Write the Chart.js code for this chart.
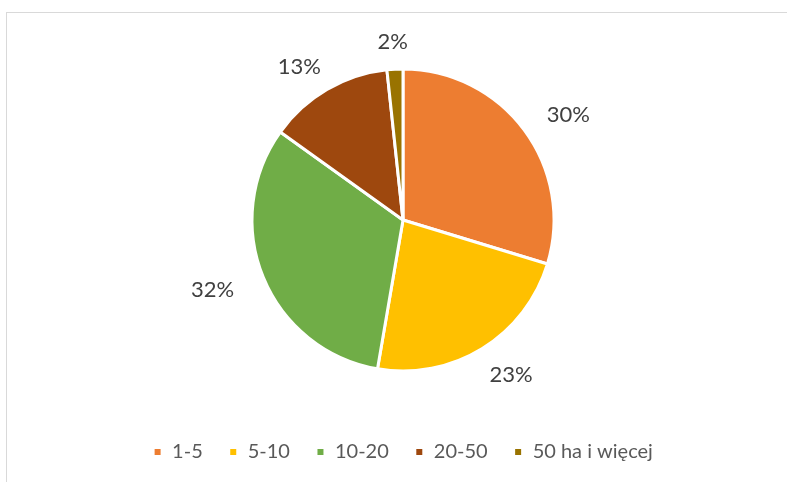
<!DOCTYPE html>
<html>
<head>
<meta charset="utf-8">
<script src="https://cdn.jsdelivr.net/npm/chart.js@4"></script>
<style>
  html, body { margin: 0; padding: 0; background: #fff; }
  #wrap { position: relative; width: 787px; height: 482px; overflow: hidden; }
  #frame { position: absolute; left: 6px; top: 12px; width: 900px; height: 600px;
           border-top: 1px solid #d9d9d9; border-left: 1px solid #d9d9d9; }
  #box { position: absolute; left: 0; top: 0; width: 787px; height: 482px; }
</style>
</head>
<body>
<div id="wrap">
  <div id="frame"></div>
  <div id="box"><canvas id="piechart"></canvas></div>
</div>
<script>
// kategorie powierzchni gospodarstw
const categories = ['1-5', '5-10', '10-20', '20-50', '50 ha i więcej'];
// udział w procentach
const shares = [29.7, 23.0, 32.2, 13.4, 1.7];
const colors = ['#ED7D31', '#FFC000', '#70AD47', '#9E480E', '#997300'];

const fontFamily = 'Lato, "Open Sans", sans-serif';

// etykiety procentowe na zewnątrz wycinków
const outsideLabels = {
    id: 'outsideLabels',
    afterDatasetsDraw(chart) {
        const ctx = chart.ctx;
        const meta = chart.getDatasetMeta(0);
        const data = chart.data.datasets[0].data;
        const total = data.reduce((a, b) => a + b, 0);
        ctx.save();
        ctx.font = '22px ' + fontFamily;
        ctx.fillStyle = '#404040';
        ctx.textAlign = 'center';
        ctx.textBaseline = 'middle';
        meta.data.forEach((arc, i) => {
            const p = arc.getProps(['x', 'y', 'startAngle', 'endAngle', 'outerRadius'], true);
            const mid = (p.startAngle + p.endAngle) / 2;
            const text = Math.round(data[i] / total * 100) + '%';
            const hw = ctx.measureText(text).width / 2;
            const hh = 13;
            const gap = 16;
            const cx = Math.cos(mid), cy = Math.sin(mid);
            // poziomo etykiety są odsunięte trochę dalej niż pionowo
            const x = p.x + (p.outerRadius + gap) * cx + 1.8 * hw * cx;
            const y = p.y + (p.outerRadius + gap) * cy + hh * cy + 2;
            ctx.fillText(text, x, y);
        });
        ctx.restore();
    }
};

const ctx1 = document.getElementById('piechart').getContext('2d');

const piechart = new Chart(ctx1, {
    type: 'pie',
    data: {
        labels: categories,
        datasets: [{
            data: shares,
            backgroundColor: colors,
            borderColor: '#ffffff',
            borderWidth: 3,
            radius: 151
        }]
    },
    options: {
        responsive: true,
        maintainAspectRatio: false,
        animation: false,
        layout: {
            padding: { top: 24, bottom: 10, left: 20, right: 1 }
        },
        plugins: {
            legend: {
                position: 'bottom',
                labels: {
                    usePointStyle: true,
                    pointStyle: 'rect',
                    boxWidth: 9,
                    boxHeight: 9,
                    padding: 26,
                    color: '#595959',
                    font: { family: fontFamily, size: 20 }
                }
            },
            tooltip: { enabled: false }
        }
    },
    plugins: [outsideLabels]
});
</script>
</body>
</html>
